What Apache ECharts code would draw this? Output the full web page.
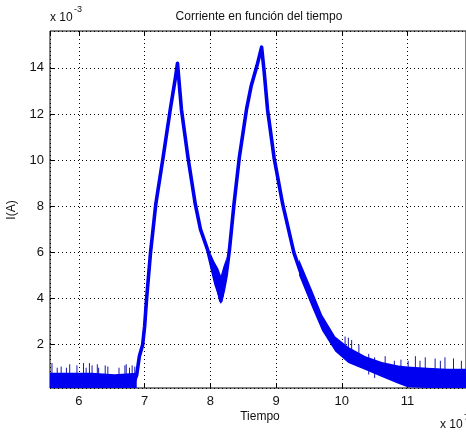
<!DOCTYPE html>
<html>
<head>
<meta charset="utf-8">
<script src="https://cdn.jsdelivr.net/npm/echarts@6/dist/echarts.min.js"></script>
<style>
  html, body { margin: 0; padding: 0; background: #fff; }
  #chart { width: 466px; height: 432px; }
</style>
</head>
<body>
<div id="chart"></div>
<script>
// señal principal (tiempo x10^?, corriente x10^-3 A)
const tiempo = [6.85, 6.88, 6.92, 6.97, 7.0, 7.03, 7.09, 7.17, 7.28, 7.39, 7.47, 7.5, 7.56, 7.66, 7.77, 7.85, 7.96, 8.02, 8.08, 8.12, 8.16, 8.2, 8.24, 8.29, 8.36, 8.44, 8.55, 8.62, 8.71, 8.78, 8.82, 8.87, 8.97, 9.1, 9.27, 9.39, 9.55, 9.68, 9.9];
const corriente = [0.45, 0.7, 1.5, 2.0, 2.8, 4.0, 6.0, 8.1, 10.1, 12.2, 13.6, 14.2, 12.2, 10.1, 8.1, 7.0, 6.1, 5.4, 5.0, 4.4, 3.9, 4.4, 5.0, 6.1, 8.1, 10.1, 12.2, 13.2, 14.1, 14.9, 13.8, 12.2, 10.1, 8.1, 6.0, 5.0, 4.0, 3.0, 2.0];

// ruido de fondo antes del pulso
const baseT = [5.56, 6.2, 6.54, 6.88];
const baseMin = [0.12, 0.12, 0.12, 0.12];
const baseMax = [0.78, 0.78, 0.72, 0.78];

// zona ruidosa del valle entre los dos picos
const valleT = [8.0, 8.06, 8.12, 8.16, 8.2, 8.25];
const valleMin = [5.3, 4.6, 4.1, 3.75, 4.1, 4.9];
const valleMax = [6.0, 5.6, 5.3, 5.0, 5.4, 5.8];

// cola de la descarga
const colaT = [9.35, 9.55, 9.7, 9.9, 10.1, 10.36, 10.61, 10.86, 11.0, 11.3, 11.6, 11.9];
const colaMin = [5.0, 3.6, 2.6, 1.7, 1.2, 0.9, 0.6, 0.3, 0.15, 0.12, 0.12, 0.12];
const colaMax = [5.7, 4.35, 3.3, 2.35, 1.9, 1.5, 1.25, 1.1, 1.05, 1.0, 0.95, 0.95];

// picos sueltos de ruido
const picosBaseT = [5.59, 5.67, 5.73, 5.81, 5.86, 5.97, 6.07, 6.11, 6.16, 6.2, 6.28, 6.3, 6.4, 6.44, 6.61, 6.7, 6.72, 6.77, 6.81, 6.85];
const picosBaseV = [1.2, 1.0, 1.05, 1.0, 1.15, 1.1, 1.2, 1.0, 1.2, 1.1, 1.15, 1.0, 1.1, 1.05, 1.0, 1.1, 1.15, 1.0, 1.1, 1.05];
const picosColaT = [10.05, 10.1, 10.15, 10.26, 10.41, 10.5, 10.66, 10.8, 10.9, 11.01, 11.12, 11.19, 11.27, 11.42, 11.5, 11.57, 11.7, 11.82];
const picosColaV = [2.35, 2.3, 2.2, 2.0, 1.6, 1.45, 1.5, 1.3, 1.35, 1.3, 1.5, 1.3, 1.45, 1.4, 1.3, 1.45, 1.4, 1.3];

const AZUL = '#0000f0';
const FONT = 'Liberation Sans, Arial, sans-serif';

function banda(ts, lo, hi) {
  return {
    type: 'custom',
    clip: true,
    data: [[ts[0], lo[0]]],
    renderItem: (params, api) => {
      const pts = [];
      ts.forEach((t, i) => pts.push(api.coord([t, hi[i]])));
      for (let i = ts.length - 1; i >= 0; i--) pts.push(api.coord([ts[i], lo[i]]));
      return { type: 'polygon', shape: { points: pts }, style: { fill: AZUL } };
    },
    z: 3,
  };
}

function picos(ts, vs) {
  const d = [];
  ts.forEach((t, i) => {
    d.push([t, vs[i] - 0.9], [t, vs[i]], [t, '-']);
  });
  return {
    type: 'line',
    data: d,
    showSymbol: false,
    connectNulls: false,
    lineStyle: { color: '#1818b0', width: 1 },
    z: 2,
  };
}

const chart = echarts.init(document.getElementById('chart'));
const option = {
  animation: false,
  grid: {
    left: 50, top: 31, right: -2, bottom: 44,
    show: true, borderColor: '#000', borderWidth: 1,
  },
  xAxis: [
    {
      type: 'value', min: 5.56, max: 11.89, splitNumber: 6,
      axisLine: { show: false },
      axisTick: { inside: true, length: 4, lineStyle: { color: '#000' } },
      axisLabel: { showMinLabel: false, showMaxLabel: false, color: '#111', fontSize: 13, fontFamily: FONT, margin: 7 },
      splitLine: { lineStyle: { color: '#000', type: [1, 3], width: 1 } },
    },
    {
      type: 'value', min: 5.56, max: 11.89, splitNumber: 6, position: 'top',
      axisLine: { show: false },
      axisTick: { inside: true, length: 4, lineStyle: { color: '#000' } },
      axisLabel: { show: false },
      splitLine: { show: false },
    },
  ],
  yAxis: {
    type: 'value', min: 0.12, max: 15.6, splitNumber: 8,
    axisLine: { show: false },
    axisTick: { inside: true, length: 4, lineStyle: { color: '#000' } },
    axisLabel: { showMinLabel: false, showMaxLabel: false, color: '#111', fontSize: 13, fontFamily: FONT, margin: 6 },
    splitLine: { lineStyle: { color: '#000', type: [1, 3], width: 1 } },
  },
  series: [
    banda(baseT, baseMin, baseMax),
    banda(valleT, valleMin, valleMax),
    banda(colaT, colaMin, colaMax),
    picos(picosBaseT, picosBaseV),
    picos(picosColaT, picosColaV),
    {
      type: 'line',
      data: tiempo.map((t, i) => [t, corriente[i]]),
      showSymbol: false,
      lineStyle: { color: AZUL, width: 3.6, join: 'round' },
      z: 4,
    },
  ],
  graphic: [
    { type: 'text', x: 259, y: 17, style: { text: 'Corriente en función del tiempo', font: '12px ' + FONT, fill: '#111', textAlign: 'center', textVerticalAlign: 'middle' } },
    { type: 'text', x: 50, y: 18, style: { text: 'x 10', font: '12px ' + FONT, fill: '#111', textVerticalAlign: 'middle' } },
    { type: 'text', x: 74, y: 10, style: { text: '-3', font: '9px ' + FONT, fill: '#111', textVerticalAlign: 'middle' } },
    { type: 'text', x: 12, y: 210, rotation: Math.PI / 2, style: { text: 'I(A)', font: '12px ' + FONT, fill: '#111', textAlign: 'center', textVerticalAlign: 'middle' } },
    { type: 'text', x: 260, y: 417, style: { text: 'Tiempo', font: '12px ' + FONT, fill: '#111', textAlign: 'center', textVerticalAlign: 'middle' } },
    { type: 'text', x: 440, y: 425, style: { text: 'x 10', font: '12px ' + FONT, fill: '#111', textVerticalAlign: 'middle' } },
    { type: 'text', x: 464, y: 418, style: { text: '7', font: '9px ' + FONT, fill: '#111', textVerticalAlign: 'middle' } },
  ],
};
chart.setOption(option);
window.addEventListener('resize', () => chart.resize());
</script>
</body>
</html>
